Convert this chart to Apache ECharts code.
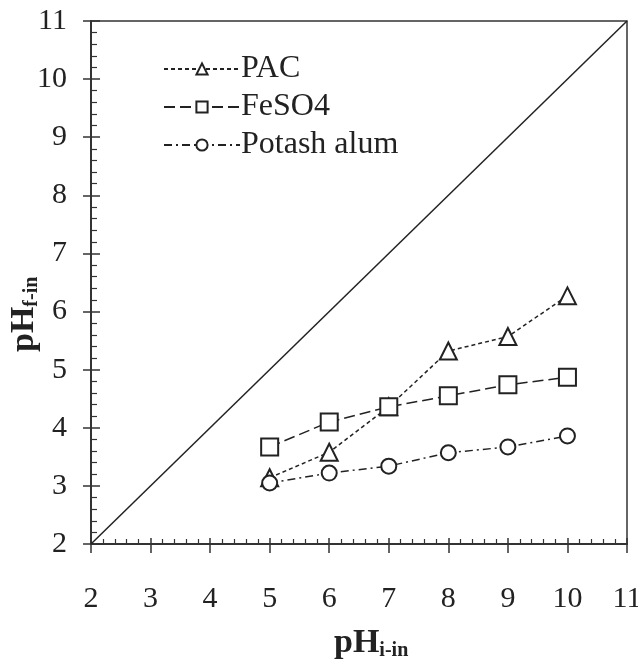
<!DOCTYPE html>
<html>
<head>
<meta charset="utf-8">
<script src="https://cdn.jsdelivr.net/npm/echarts@6/dist/echarts.min.js"></script>
<style>
  html, body { margin: 0; padding: 0; background: #fff; }
  #chart { width: 638px; height: 663px; }
</style>
</head>
<body>
<div id="chart"></div>
<script>
// pH values
const phInitial = [5, 6, 7, 8, 9, 10];
const pacValues = [3.14, 3.58, 4.36, 5.32, 5.57, 6.27];
const feso4Values = [3.67, 4.1, 4.36, 4.55, 4.74, 4.87];
const potashValues = [3.05, 3.22, 3.34, 3.57, 3.67, 3.86];
const diagonal = [[2, 2], [11, 11]];

const serif = "Liberation Serif";
const ink = "#222";

const pairs = (ys) => phInitial.map((x, i) => [x, ys[i]]);

const chart = echarts.init(document.getElementById("chart"));

const lineSeries = (name, ys, symbol, size, dash) => ({
  name: name,
  type: "line",
  data: pairs(ys),
  symbol: symbol,
  symbolSize: size,
  lineStyle: { color: ink, width: 1.5, type: dash },
  itemStyle: { color: "#fff", borderColor: ink, borderWidth: 2 },
  z: 5,
});

// axis titles with subscripts
const nameRich = {
  a: { fontFamily: serif, fontWeight: "bold", fontSize: 34, fill: ink, color: ink },
  b: { fontFamily: serif, fontWeight: "bold", fontSize: 20, fill: ink, color: ink, verticalAlign: "bottom", padding: [16, 0, 0, 0] },
};

const tickAxis = (pos, len) => ({
  type: "value",
  position: pos,
  min: 2,
  max: 11,
  interval: 1,
  splitLine: { show: false },
  axisLine: { show: false },
  axisTick: { length: len, lineStyle: { color: "#333", width: 1.5 } },
  axisLabel: { show: false },
});

chart.setOption({
  animation: false,
  backgroundColor: "#fff",
  grid: {
    left: 91,
    right: 11,
    top: 21,
    bottom: 119,
    outerBoundsMode: "none",
    containLabel: false,
    show: true,
    borderColor: "#333",
    borderWidth: 1.5,
  },
  legend: {
    orient: "vertical",
    left: 158,
    top: 48,
    itemWidth: 76,
    itemHeight: 14,
    itemGap: 6,
    textStyle: { fontFamily: serif, fontSize: 32, color: ink, padding: [0, 0, 0, -4] },
    data: ["PAC", "FeSO4", "Potash alum"],
  },
  graphic: [
    {
      type: "text",
      left: 334,
      top: 626,
      style: { text: "{a|pH}{b|i-in}", rich: nameRich },
    },
    {
      type: "text",
      x: 6,
      y: 352,
      rotation: Math.PI / 2,
      style: { text: "{a|pH}{b|f-in}", rich: nameRich, textAlign: "left", textVerticalAlign: "top" },
    },
  ],
  xAxis: [
    {
      type: "value",
      min: 2,
      max: 11,
      interval: 1,
      splitLine: { show: false },
      axisLine: { lineStyle: { color: "#333", width: 2 } },
      axisTick: { inside: true, length: 6, lineStyle: { color: "#333", width: 1.5 } },
      minorTick: { show: true, splitNumber: 5, length: 5, lineStyle: { color: "#333", width: 1.2 } },
      axisLabel: { fontFamily: serif, fontSize: 30, color: ink, margin: 40 },
    },
    tickAxis("bottom", 9),
  ],
  yAxis: [
    {
      type: "value",
      min: 2,
      max: 11,
      interval: 1,
      splitLine: { show: false },
      axisLine: { lineStyle: { color: "#333", width: 2 } },
      axisTick: { inside: true, length: 9, lineStyle: { color: "#333", width: 1.5 } },
      minorTick: { show: true, splitNumber: 5, length: 6, lineStyle: { color: "#333", width: 1.2 } },
      axisLabel: { fontFamily: serif, fontSize: 30, color: ink, margin: 24 },
    },
    tickAxis("left", 8),
  ],
  series: [
    {
      name: "1:1",
      type: "line",
      data: diagonal,
      symbol: "none",
      lineStyle: { color: ink, width: 1.5 },
      z: 3,
    },
    lineSeries("PAC", pacValues, "triangle", 17, [4, 3]),
    lineSeries("FeSO4", feso4Values, "rect", 17, [11, 5]),
    lineSeries("Potash alum", potashValues, "circle", 15, [8, 4, 2, 4]),
  ],
});
</script>
</body>
</html>
